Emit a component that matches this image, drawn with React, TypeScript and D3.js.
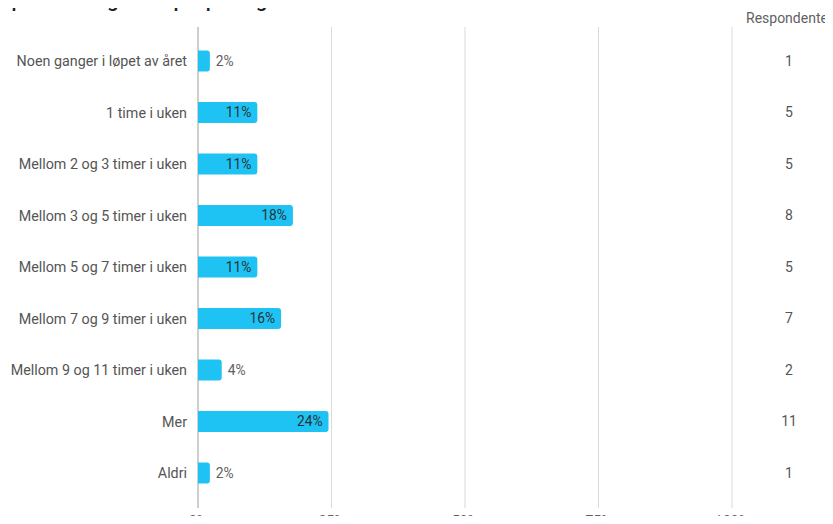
import React from "react";
import * as d3 from "d3";

const categories = [
  "Noen ganger i løpet av året",
  "1 time i uken",
  "Mellom 2 og 3 timer i uken",
  "Mellom 3 og 5 timer i uken",
  "Mellom 5 og 7 timer i uken",
  "Mellom 7 og 9 timer i uken",
  "Mellom 9 og 11 timer i uken",
  "Mer",
  "Aldri",
];
const respondents = [1, 5, 5, 8, 5, 7, 2, 11, 1];
const percentLabels = ["2%", "11%", "11%", "18%", "11%", "16%", "4%", "24%", "2%"];
const tickValues = [0, 25, 50, 75, 100];
const title = "spiller du digitale spill på engelsk?";
const respondentHeader = "Respondenter";

const W = 833;
const H = 524;
const FONT = "Roboto, 'Noto Sans', sans-serif";

export default function App() {
  const total = d3.sum(respondents);
  const pct = respondents.map((r) => (r / total) * 100);

  const x = d3.scaleLinear().domain([0, 100]).range([198, 732]);
  const y = d3
    .scaleBand<string>()
    .domain(categories)
    .range([35, 499])
    .paddingInner(0.59)
    .paddingOuter(0.3);

  const bh = y.bandwidth();
  const r = 3;

  const barPath = (v: number, top: number) => {
    const x0 = x(0);
    const x1 = x(v);
    const w = x1 - x0;
    const rr = Math.min(r, w / 2);
    const p = d3.path();
    p.moveTo(x0, top);
    p.lineTo(x1 - rr, top);
    p.quadraticCurveTo(x1, top, x1, top + rr);
    p.lineTo(x1, top + bh - rr);
    p.quadraticCurveTo(x1, top + bh, x1 - rr, top + bh);
    p.lineTo(x0, top + bh);
    p.closePath();
    return p.toString();
  };

  return (
    <div style={{ margin: -8 }}>
      <svg width={W} height={H} style={{ display: "block", fontFamily: FONT }}>
        <rect width={W} height={H} fill="#ffffff" />
        <text x={1} y={7} fontSize={20.5} fontWeight={500} fill="#202124">
          {title}
        </text>
        {tickValues.map((t) => (
          <g key={t}>
            <line
              x1={x(t)}
              x2={x(t)}
              y1={27}
              y2={508}
              stroke={t === 0 ? "#9e9e9e" : "#d9d9d9"}
              strokeWidth={1}
            />
            <text x={x(t)} y={526} fontSize={14} fill="#616161" textAnchor="middle">
              {t}%
            </text>
          </g>
        ))}
        <text x={746} y={23} fontSize={14} fill="#616161" textAnchor="start">
          {respondentHeader}
        </text>
        {categories.map((c, i) => {
          const top = y(c)!;
          const cy = top + bh / 2;
          const inside = pct[i] > 8;
          return (
            <g key={c}>
              <text x={187} y={cy} dy="0.35em" fontSize={14.3} fill="#555555" textAnchor="end">
                {c}
              </text>
              <path d={barPath(pct[i], top)} fill="#1fc3f3" />
              <text
                x={inside ? x(pct[i]) - 6 : x(pct[i]) + 6}
                y={cy}
                dy="0.35em"
                fontSize={13.8}
                fill={inside ? "#263238" : "#616161"}
                textAnchor={inside ? "end" : "start"}
              >
                {percentLabels[i]}
              </text>
              <text x={789} y={cy} dy="0.35em" fontSize={14} fill="#555555" textAnchor="middle">
                {respondents[i]}
              </text>
            </g>
          );
        })}
      </svg>
    </div>
  );
}
